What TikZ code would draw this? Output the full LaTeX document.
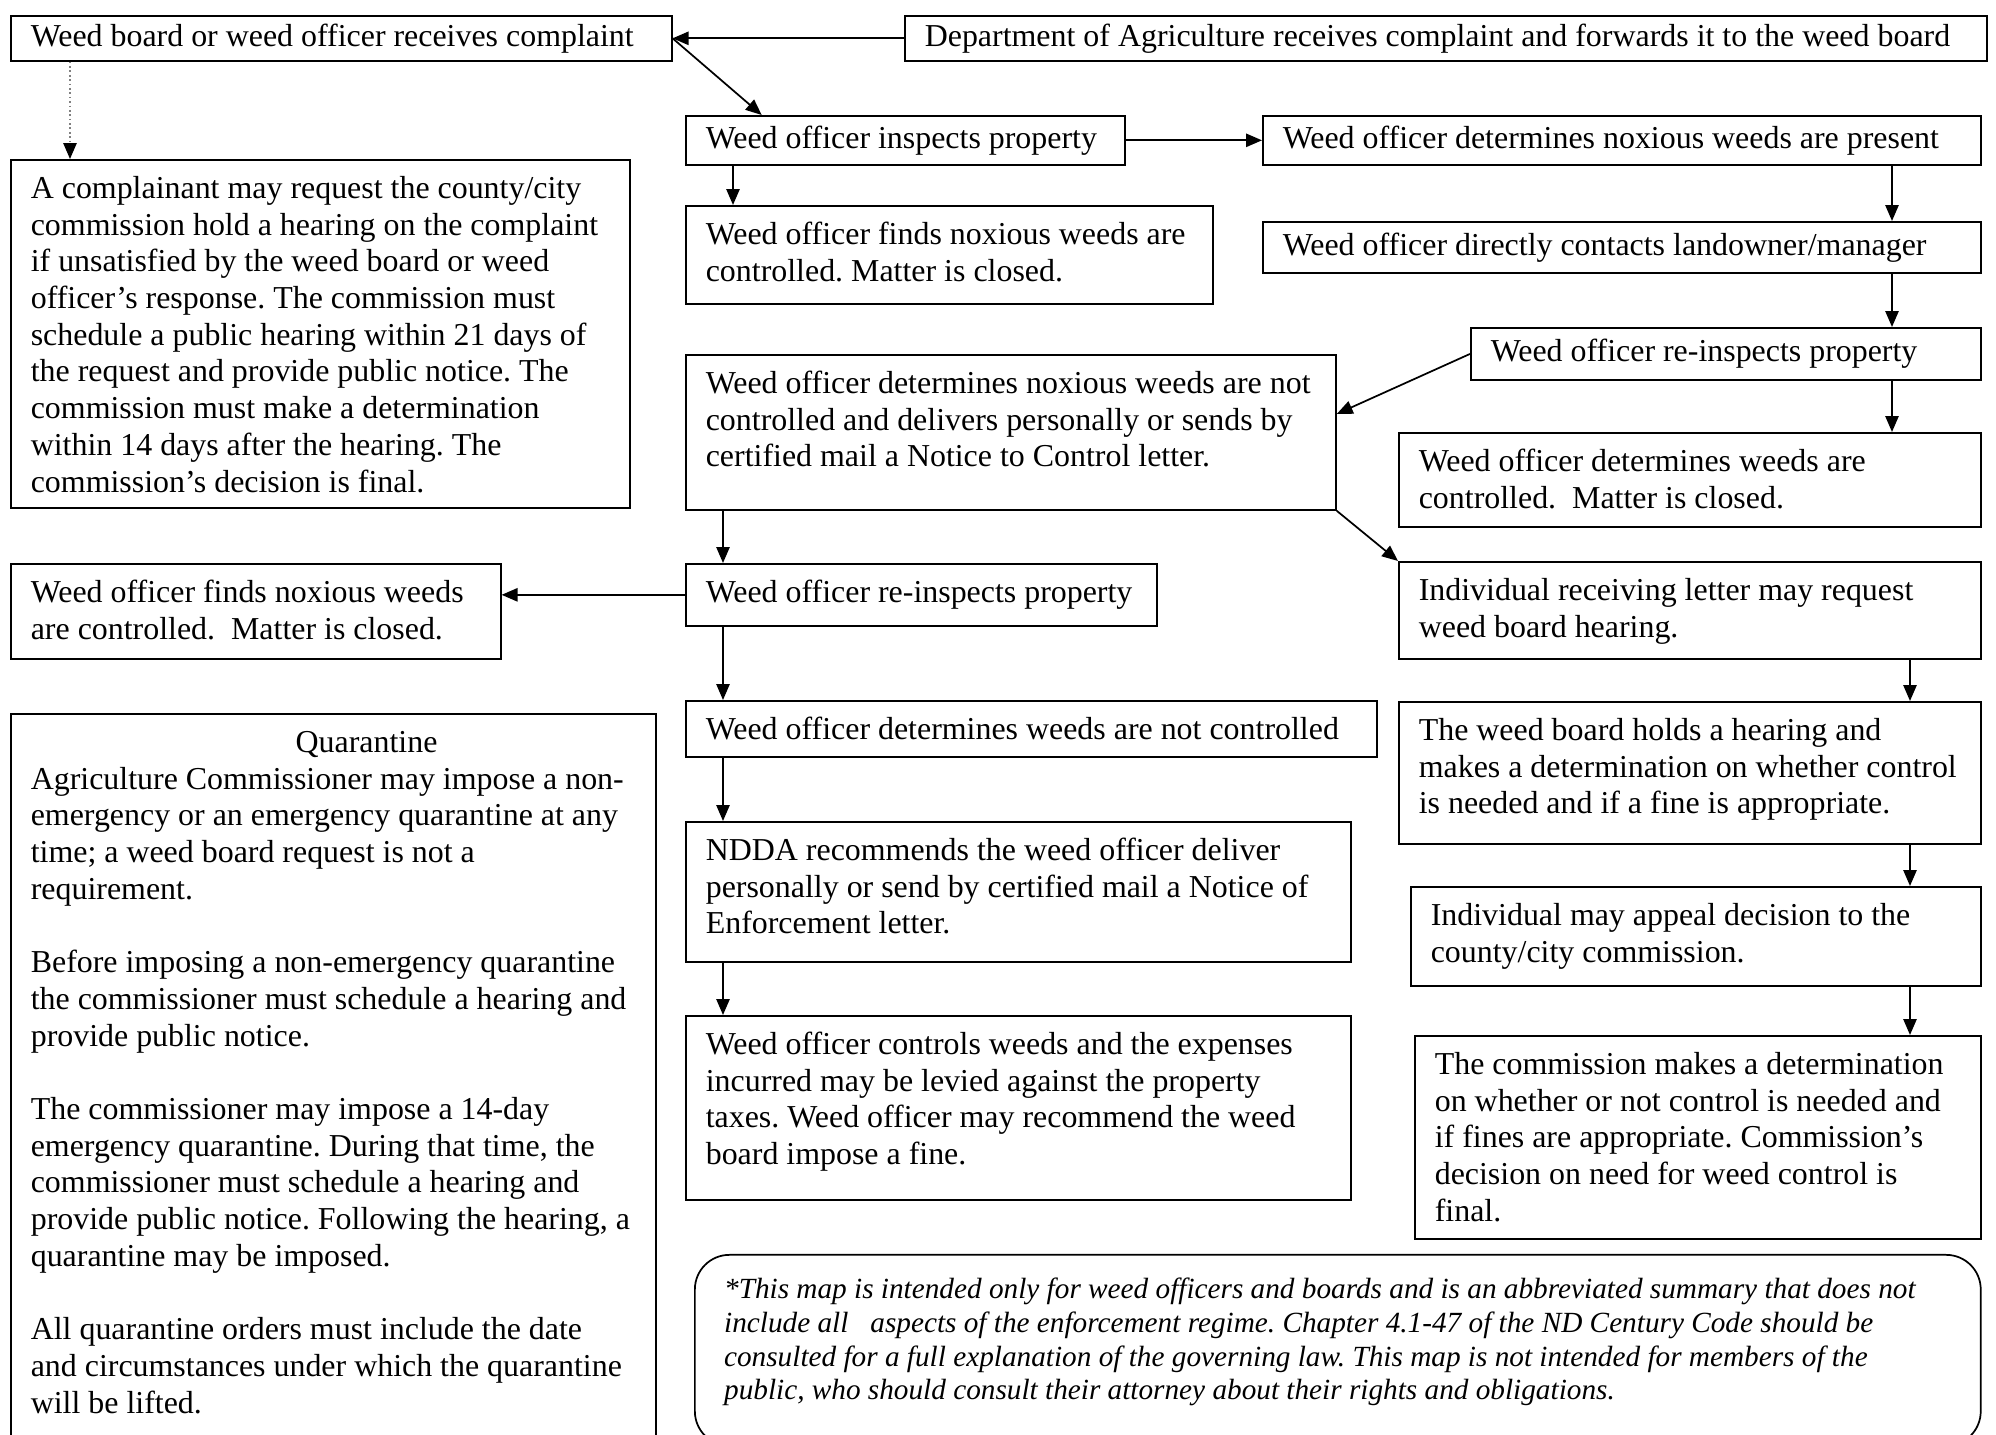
\documentclass[tikz,border=0pt]{standalone}
\usepackage{fontspec}
\setmainfont{Liberation Serif}
\usetikzlibrary{arrows.meta,calc}
\frenchspacing

\tikzset{
  stepbox/.style 2 args={draw, anchor=north west, inner xsep=7.5pt, inner ysep=0pt,
    execute at begin node={\begin{minipage}[c][#2][c]{#1}\rightskip=-12pt plus 1fil\relax},
    execute at end node={\end{minipage}}},
  notebox/.style 2 args={draw, anchor=north west, inner xsep=7.5pt, inner ysep=0pt,
    execute at begin node={\begin{minipage}[c][#2][t]{#1}\rightskip=-12pt plus 1fil\relax\rule{0pt}{14.5pt}\ignorespaces},
    execute at end node={\end{minipage}}},
  footbox/.style 2 args={draw, rounded corners=13pt, anchor=north west, inner xsep=11pt, inner ysep=0pt,
    font=\fontsize{11pt}{12.65pt}\selectfont\itshape,
    execute at begin node={\begin{minipage}[c][#2][t]{#1}\rightskip=-12pt plus 1fil\relax\rule{0pt}{16.5pt}\ignorespaces},
    execute at end node={\end{minipage}}}
}

\begin{document}
\begin{tikzpicture}[x=0.376pt,y=-0.376pt,line width=0.65pt,
    >={Triangle[length=6pt,width=5pt]},
    font=\fontsize{12pt}{13.8pt}\selectfont]
    \useasboundingbox (0,0) rectangle (1996,1435);
    \clip (0,0) rectangle (1996,1435);

    \node[stepbox={233.5pt}{16.9pt}] (A) at (10,15) {Weed board or weed officer receives complaint};
    \node[stepbox={391.8pt}{16.9pt}] (B) at (904,15) {Department of Agriculture receives complaint and forwards it to the weed board};
    \node[stepbox={150.1pt}{18.4pt}] (C) at (685,115) {Weed officer inspects property};
    \node[stepbox={255pt}{18.4pt}] (D) at (1262,115) {Weed officer determines noxious weeds are present};
    \node[notebox={183.2pt}{36.8pt}] (E) at (685,205) {Weed officer finds noxious weeds are\\ controlled. Matter is closed.};
    \node[notebox={217.7pt}{130.8pt}] (F) at (10,159) {A complainant may request the county/city\\ commission hold a hearing on the complaint\\ if unsatisfied by the weed board or weed\\ officer's response. The commission must\\ schedule a public hearing within 21 days of\\ the request and provide public notice. The\\ commission must make a determination\\ within 14 days after the hearing. The\\ commission's decision is final.};
    \node[stepbox={255pt}{19.2pt}] (G) at (1262,221) {Weed officer directly contacts landowner/manager};
    \node[stepbox={176.8pt}{19.6pt}] (H) at (1470,327) {Weed officer re-inspects property};
    \node[notebox={229.4pt}{58.3pt}] (I) at (685,354) {Weed officer determines noxious weeds are not\\ controlled and delivers personally or sends by\\ certified mail a Notice to Control letter.};
    \node[notebox={203.8pt}{35.3pt}] (J) at (1398,432) {Weed officer determines weeds are\\ controlled.\ \ Matter is closed.};
    \node[notebox={203.8pt}{36.5pt}] (K) at (1398,561) {Individual receiving letter may request\\ weed board hearing.};
    \node[stepbox={162.1pt}{23.3pt}] (L) at (685,563) {Weed officer re-inspects property};
    \node[notebox={169.2pt}{35.7pt}] (M) at (10,563) {Weed officer finds noxious weeds\\ are controlled.\ \ Matter is closed.};
    \node[stepbox={244.8pt}{21.1pt}] (N) at (685,700) {Weed officer determines weeds are not controlled};
    \node[notebox={203.8pt}{53.4pt}] (O) at (1398,701) {The weed board holds a hearing and\\ makes a determination on whether control\\ is needed and if a fine is appropriate.};
    \node[notebox={227.5pt}{280.9pt}] (P) at (10,713) {\hspace*{99.6pt}Quarantine\\ Agriculture Commissioner may impose a non-\\ emergency or an emergency quarantine at any\\ time; a weed board request is not a\\ requirement.\\[\baselineskip] Before imposing a non-emergency quarantine\\ the commissioner must schedule a hearing and\\ provide public notice.\\[\baselineskip] The commissioner may impose a 14-day\\ emergency quarantine. During that time, the\\ commissioner must schedule a hearing and\\ provide public notice. Following the hearing, a\\ quarantine may be imposed.\\[\baselineskip] All quarantine orders must include the date\\ and circumstances under which the quarantine\\ will be lifted.};
    \node[notebox={235pt}{52.6pt}] (Q) at (685,821) {NDDA recommends the weed officer deliver\\ personally or send by certified mail a Notice of\\ Enforcement letter.};
    \node[notebox={199.3pt}{37.2pt}] (R) at (1410,886) {Individual may appeal decision to the\\ county/city commission.};
    \node[notebox={235pt}{69.2pt}] (S) at (685,1015) {Weed officer controls weeds and the expenses\\ incurred may be levied against the property\\ taxes. Weed officer may recommend the weed\\ board impose a fine.};
    \node[notebox={197.8pt}{76.3pt}] (T) at (1414,1035) {The commission makes a determination\\ on whether or not control is needed and\\ if fines are appropriate. Commission's\\ decision on need for weed control is\\ final.};
    \node[footbox={461.5pt}{71.8pt}] (U) at (694,1254) {*This map is intended only for weed officers and boards and is an abbreviated summary that does not\\ include all \ \ aspects of the enforcement regime. Chapter 4.1-47 of the ND Century Code should be\\ consulted for a full explanation of the governing law. This map is not intended for members of the\\ public, who should consult their attorney about their rights and obligations.};

    \coordinate (topcol) at (733,0);
    \coordinate (midcol) at (723,0);
    \coordinate (rightcol) at (1892,0);
    \coordinate (farcol) at (1910,0);

    \draw[densely dotted, gray, -{Triangle[length=6pt,width=5pt,black]}]
      ($(A.south west)+(60,0)$) -- ($(F.north west)+(60,0)$);

    \path[->]
    (B) edge (A)
    (A.east) edge (C.170)
    (C) edge (D)
    (C.south -| topcol) edge (E.north -| topcol)
    (D.south -| rightcol) edge (G.north -| rightcol)
    (G.south -| rightcol) edge (H.north -| rightcol)
    (H.south -| rightcol) edge (J.north -| rightcol)
    (H.west) edge ($(I.north east)+(0,60)$)
    (I.south east) edge (K.north west)
    (I.south -| midcol) edge (L.north -| midcol)
    (L.west) edge (L.west -| M.east)
    (L.south -| midcol) edge (N.north -| midcol)
    (N.south -| midcol) edge (Q.north -| midcol)
    (Q.south -| midcol) edge (S.north -| midcol)
    (K.south -| farcol) edge (O.north -| farcol)
    (O.south -| farcol) edge (R.north -| farcol)
    (R.south -| farcol) edge (T.north -| farcol)
    ;
\end{tikzpicture}
\end{document}
